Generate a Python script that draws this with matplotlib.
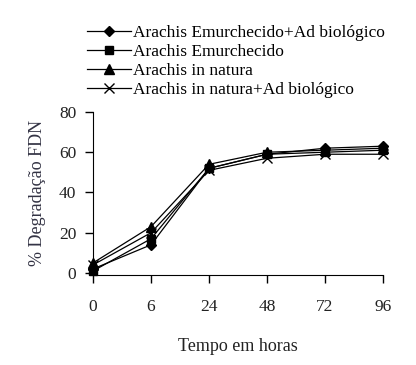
import numpy as np
import matplotlib
matplotlib.use("Agg")
import matplotlib.pyplot as plt

plt.rcParams['font.family'] = ['Liberation Serif', 'DejaVu Serif']

horas = ["0", "6", "24", "48", "72", "96"]
emurch_ad = [2, 14, 52, 59, 62, 63]
emurch = [1, 17, 52, 59, 60, 61]
natura = [5, 23, 54, 60, 61, 62]
natura_ad = [4, 20, 51, 57, 59, 59]

series = [
    ("Arachis Emurchecido+Ad biológico", emurch_ad, "D", 5),
    ("Arachis Emurchecido", emurch, "s", 6),
    ("Arachis in natura", natura, "^", 7),
    ("Arachis in natura+Ad biológico", natura_ad, "x", 7),
]

fig = plt.figure(figsize=(4.16, 3.65), dpi=100)
ax = fig.add_axes([0.2236, 0.2466, 0.6971, 0.4466])
x = np.arange(len(horas))
handles = []
for label, vals, mk, ms in series:
    h, = ax.plot(x, vals, color="black", lw=0.9, marker=mk, markersize=ms,
                 markerfacecolor="black", markeredgecolor="black",
                 markeredgewidth=1.0, clip_on=False, label=label)
    handles.append(h)

ax.set_xlim(0, 5)
ax.set_ylim(-1, 80)
ax.set_yticks([0, 20, 40, 60, 80])
ax.set_xticks(x)
ax.set_xticklabels(horas)
ax.spines['top'].set_visible(False)
ax.spines['right'].set_visible(False)
ax.tick_params(direction='out', length=6, width=1, labelsize=12.5,
               labelcolor="#222222")
ax.tick_params(axis='x', pad=11)
ax.tick_params(axis='y', pad=6)
ax.set_xlabel("Tempo em horas", fontsize=13, color="#222222", labelpad=17)
ax.set_ylabel("% Degradação FDN", fontsize=13, color="#333344", labelpad=9)

fig.legend(handles=handles, loc="upper left", bbox_to_anchor=(0.193, 0.95),
           frameon=False, fontsize=12.5, handlelength=2.5, handletextpad=0.15,
           labelspacing=0.16, borderaxespad=0)

fig.savefig("out.png", dpi=100)
